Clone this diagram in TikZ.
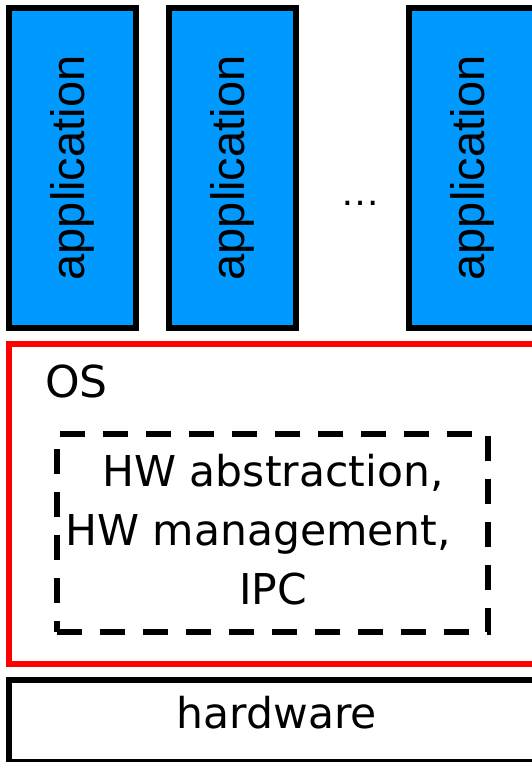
\documentclass[tikz,border=0pt]{standalone}
\usepackage{fontspec}
\newfontfamily\labelfont{DejaVu Sans}
\newfontfamily\appfont{Liberation Sans}
\definecolor{appblue}{RGB}{0,153,255}
\definecolor{osred}{RGB}{255,0,0}
\begin{document}
\begin{tikzpicture}[x=1pt,y=-1pt,
  appbox/.style={draw=black, line width=6pt, fill=appblue, rotate=90,
    minimum width=320pt, minimum height=127pt, inner sep=0pt,
    font=\appfont\fontsize{47}{56}\selectfont},
  layerbox/.style={line width=6pt, minimum width=536pt, inner sep=0pt},
  servicebox/.style={draw=black, line width=6pt, dash pattern=on 25pt off 18pt,
    minimum width=431pt, minimum height=198pt, inner sep=0pt},
  bigtext/.style={inner sep=0pt, font=\labelfont\fontsize{42.5}{59}\selectfont}]
\useasboundingbox (0,0) rectangle (532,762);
% application column
\node[appbox] (app1) at (72.5,168) {application};
\node[appbox] (app2) at (232.5,168) {application};
\node[appbox] (app3) at (472.5,168) {application};
\node[inner sep=0pt, anchor=base, font=\appfont\fontsize{40}{48}\selectfont] (dots) at (360,205) {…};
% operating system layer
\node[layerbox, draw=osred, minimum height=320pt] (os) at (277,504) {};
\node[bigtext, anchor=base west, font=\labelfont\fontsize{44}{52}\selectfont] (oslabel) at (45,397) {OS};
\node[servicebox] (services) at (272.5,533) {};
\node[bigtext, align=center] (servicetext) at (273,530)
  {HW abstraction,\\HW management,\kern30pt\\IPC};
% hardware layer
\node[layerbox, draw=black, minimum height=82pt] (hw) at (277,721) {};
\node[bigtext, anchor=base] (hwlabel) at (277,728) {hardware};
\end{tikzpicture}
\end{document}
